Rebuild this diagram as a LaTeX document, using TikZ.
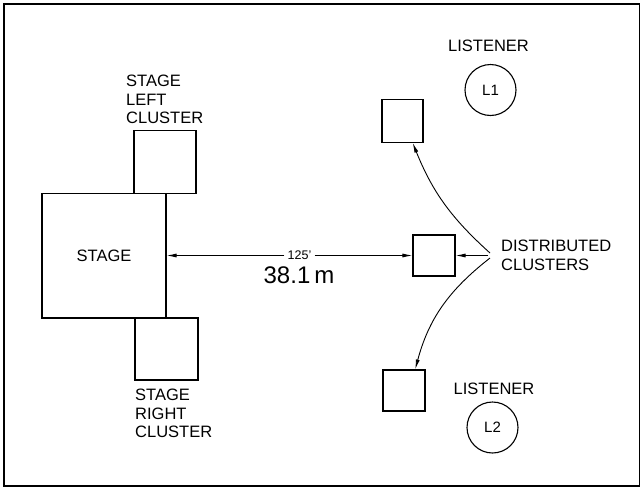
\documentclass[tikz,border=0pt]{standalone}
\usepackage{fontspec}
\setmainfont{Liberation Sans}
\usetikzlibrary{arrows.meta,calc}
\tikzset{
  box/.style={draw, line width=1.1pt, inner sep=0pt},
  lbl/.style={font=\fontsize{16.5}{18.5}\selectfont, inner sep=0pt, align=left},
  lst/.style={circle, draw, line width=1.1pt, minimum size=51pt, inner sep=0pt, font=\fontsize{15}{17}\selectfont},
  conn/.style={line width=0.9pt, -{Latex[length=10pt,width=4pt]}},
}
\begin{document}
\begin{tikzpicture}[x=1pt,y=1pt]
\useasboundingbox (0,0) rectangle (641,-488);
\draw[line width=1.8pt] (4,-4) rectangle (639.5,-486);
% boxes
\node[box, minimum width=124pt, minimum height=124.5pt, font=\fontsize{16.5}{18.5}\selectfont] (stage) at (104,-255.7) {STAGE};
\node[box, minimum width=62pt, minimum height=62.5pt] (slc) at (165,-162) {};
\node[box, minimum width=63pt, minimum height=62pt] (src) at (166.5,-349) {};
\node[box, minimum width=41pt, minimum height=42.5pt] (topbox) at (402.5,-121) {};
\node[box, minimum width=42pt, minimum height=41pt] (midbox) at (434,-255.5) {};
\node[box, minimum width=42pt, minimum height=41pt] (botbox) at (404,-390.5) {};
\node[lst] (L1) at (490.5,-90) {L1};
\node[lst] (L2) at (492.5,-427.5) {L2};
% labels
\node[lbl, anchor=north west] (lblSL) at (126,-75) {STAGE\\LEFT\\CLUSTER};
\node[lbl, anchor=north west] (lblSR) at (135,-389) {STAGE\\RIGHT\\CLUSTER};
\node[lbl] (lst1) at (488.5,-46) {LISTENER};
\node[lbl] (lst2) at (494,-388.5) {LISTENER};
\node[lbl, anchor=north west] (dist) at (501,-240) {DISTRIBUTED\\CLUSTERS};
\node[font=\fontsize{12.5}{14}\selectfont, inner sep=3pt] (d125) at (299.5,-255.5) {125'};
\node[font=\fontsize{24}{28}\selectfont, inner sep=0pt] (dm) at (299,-275.5) {38.1\,m};
% connectors
\draw[conn] (d125.west) -- (d125.west -| stage.east);
\draw[conn] (d125.east) -- (d125.east -| midbox.west);
\coordinate (hubT) at (490,-253);
\coordinate (hubB) at (490,-258);
\coordinate (hubM) at (488,-255.5);
\draw[conn] (hubM) -- (midbox.east);
\draw[conn] (hubT) to[out=138, in=-68] (topbox.-65);
\draw[conn] (hubB) to[out=-142, in=75] (botbox.62);
\end{tikzpicture}
\end{document}
